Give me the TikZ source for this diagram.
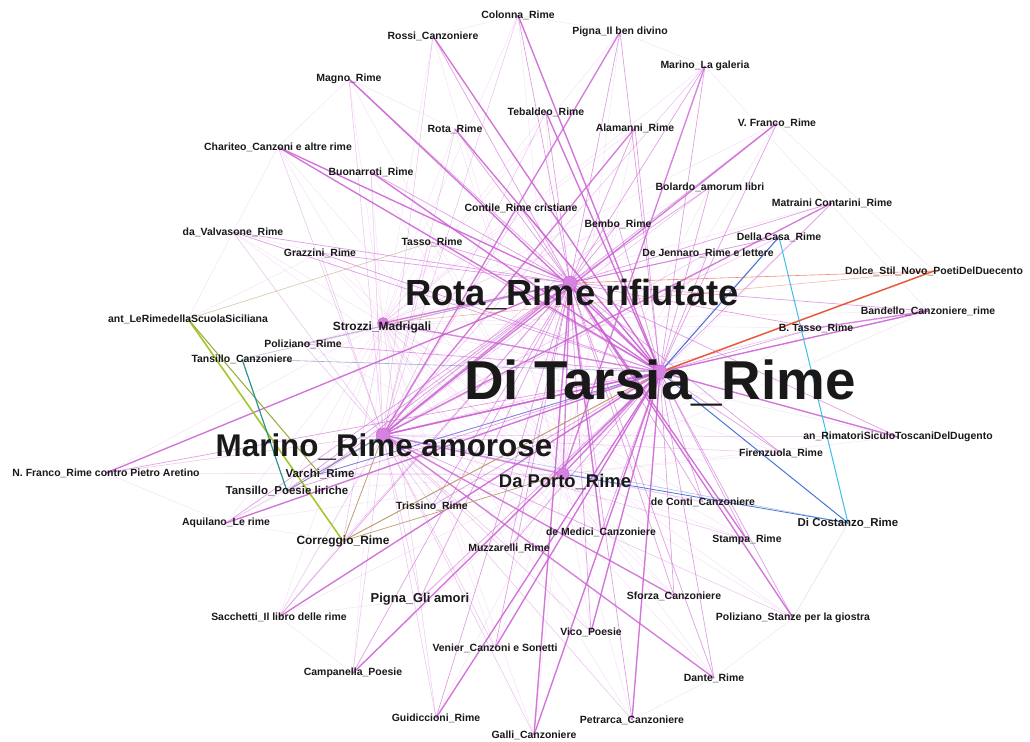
\documentclass[tikz,border=0pt]{standalone}
\usepackage{fontspec}
\setmainfont{Liberation Sans}
\usetikzlibrary{backgrounds}
\definecolor{linkpink}{RGB}{204,96,212}
\definecolor{hubpink}{RGB}{214,130,224}
\definecolor{lblgrey}{RGB}{25,25,25}
\definecolor{limegreen}{RGB}{160,200,40}
\definecolor{olivegreen}{RGB}{150,170,60}
\definecolor{tealgreen}{RGB}{40,150,140}
\definecolor{skyblue}{RGB}{60,190,235}
\definecolor{linkblue}{RGB}{70,120,210}
\definecolor{greyblue}{RGB}{120,140,180}
\definecolor{linkred}{RGB}{232,90,60}
\definecolor{linktan}{RGB}{190,160,110}
\tikzstyle{link} = [draw=linkpink, line width=0.7pt, draw opacity=0.6]
\tikzstyle{thinlink} = [draw=linkpink, line width=0.5pt, draw opacity=0.4]
\tikzstyle{faintlink} = [draw=linkpink, line width=0.4pt, draw opacity=0.2]
\tikzstyle{heavylink} = [draw=linkpink, line width=1.4pt, draw opacity=0.75]
\tikzstyle{hubdot} = [circle, fill=hubpink, draw=linkpink, minimum size=14bp, inner sep=0pt]
\tikzset{lbl/.style={font=\bfseries\fontsize{#1}{#1}\selectfont, inner sep=0pt, text=lblgrey},
         lbl/.default=10.5}

\begin{document}
\begin{tikzpicture}[x=1bp, y=-1bp]
\useasboundingbox (0,0) rectangle (1030,742);

% hubs
\node (tarsia) [hubdot] at (660,372) {};
\node (rotarif) [hubdot] at (570,283) {};
\node (marinoam) [hubdot] at (383,435) {};
\node (daporto) [hubdot, minimum size=12bp] at (563,474) {};
\node (strozzi) [hubdot, minimum size=11bp] at (383,323) {};

\node (tarsia-lbl) [lbl=55] at (660,383) {Di Tarsia\_Rime};
\node (rotarif-lbl) [lbl=36.5] at (572,295) {Rota\_Rime rifiutate};
\node (marinoam-lbl) [lbl=31.5] at (384,447) {Marino\_Rime amorose};
\node (daporto-lbl) [lbl=18.5] at (565,482) {Da Porto\_Rime};
\node (strozzi-lbl) [lbl=12] at (382,327) {Strozzi\_Madrigali};

% other works
\node (colonna) [lbl] at (518,15) {Colonna\_Rime};
\node (rossi) [lbl] at (433,36) {Rossi\_Canzoniere};
\node (pignaben) [lbl] at (620,32) {Pigna\_Il ben divino};
\node (magno) [lbl] at (349,79) {Magno\_Rime};
\node (marinogal) [lbl] at (705,66) {Marino\_La galeria};
\node (tebaldeo) [lbl] at (546,112) {Tebaldeo\_Rime};
\node (alamanni) [lbl] at (635,128) {Alamanni\_Rime};
\node (rota) [lbl] at (455,129) {Rota\_Rime};
\node (vfranco) [lbl] at (777,123) {V. Franco\_Rime};
\node (chariteo) [lbl] at (278,147) {Chariteo\_Canzoni e altre rime};
\node (buonarroti) [lbl] at (371,172) {Buonarroti\_Rime};
\node (bolardo) [lbl] at (710,187) {Bolardo\_amorum libri};
\node (contile) [lbl] at (521,208) {Contile\_Rime cristiane};
\node (bembo) [lbl] at (618,224) {Bembo\_Rime};
\node (matraini) [lbl] at (832,203) {Matraini Contarini\_Rime};
\node (valvasone) [lbl] at (233,232) {da\_Valvasone\_Rime};
\node (tasso) [lbl] at (432,242) {Tasso\_Rime};
\node (grazzini) [lbl] at (320,253) {Grazzini\_Rime};
\node (dellacasa) [lbl] at (779,237) {Della Casa\_Rime};
\node (dejennaro) [lbl] at (708,253) {De Jennaro\_Rime e lettere};
\node (dolce) [lbl] at (934,271) {Dolce\_Stil\_Novo\_PoetiDelDuecento};
\node (ant) [lbl] at (188,319) {ant\_LeRimedellaScuolaSiciliana};
\node (bandello) [lbl] at (928,311) {Bandello\_Canzoniere\_rime};
\node (btasso) [lbl] at (816,328) {B. Tasso\_Rime};
\node (polrime) [lbl] at (303,344) {Poliziano\_Rime};
\node (tancanz) [lbl] at (242,359) {Tansillo\_Canzoniere};
\node (rimatori) [lbl] at (898,437) {an\_RimatoriSiculoToscaniDelDugento};
\node (firenzuola) [lbl] at (781,453) {Firenzuola\_Rime};
\node (nfranco) [lbl] at (106,473) {N. Franco\_Rime contro Pietro Aretino};
\node (varchi) [lbl=11.5] at (320,474) {Varchi\_Rime};
\node (tanpoes) [lbl=11.5] at (287,491) {Tansillo\_Poesie liriche};
\node (deconti) [lbl] at (703,502) {de Conti\_Canzoniere};
\node (costanzo) [lbl=11.5] at (848,523) {Di Costanzo\_Rime};
\node (trissino) [lbl] at (432,506) {Trissino\_Rime};
\node (aquilano) [lbl] at (226,523) {Aquilano\_Le rime};
\node (demedici) [lbl] at (601,532) {de Medici\_Canzoniere};
\node (correggio) [lbl=12] at (343,541) {Correggio\_Rime};
\node (muzzarelli) [lbl] at (509,548) {Muzzarelli\_Rime};
\node (stampa) [lbl] at (747,540) {Stampa\_Rime};
\node (sforza) [lbl] at (674,596) {Sforza\_Canzoniere};
\node (pignaam) [lbl=13] at (420,599) {Pigna\_Gli amori};
\node (sacchetti) [lbl] at (279,617) {Sacchetti\_Il libro delle rime};
\node (polstanze) [lbl] at (793,618) {Poliziano\_Stanze per la giostra};
\node (vico) [lbl] at (591,632) {Vico\_Poesie};
\node (venier) [lbl] at (495,648) {Venier\_Canzoni e Sonetti};
\node (campanella) [lbl] at (353,673) {Campanella\_Poesie};
\node (dante) [lbl] at (714,678) {Dante\_Rime};
\node (guidiccioni) [lbl] at (436,718) {Guidiccioni\_Rime};
\node (petrarca) [lbl] at (632,720) {Petrarca\_Canzoniere};
\node (galli) [lbl] at (534,735) {Galli\_Canzoniere};

\begin{pgfonlayer}{background}
\fill[white] (0,0) rectangle (1030,742);

% every work to the hubs
\foreach \n in {colonna, rossi, pignaben, magno, marinogal, tebaldeo, alamanni,
    rota, vfranco, chariteo, buonarroti, bolardo, contile, bembo, matraini,
    valvasone, tasso, grazzini, dellacasa, dejennaro, bandello, btasso, polrime,
    rimatori, firenzuola, nfranco, varchi, tanpoes, deconti, trissino, aquilano,
    demedici, muzzarelli, stampa, sforza, pignaam, sacchetti, polstanze, vico,
    venier, campanella, dante, guidiccioni, petrarca, galli} {
  \draw[link] (\n.center) -- (tarsia.center);
  \draw[link] (\n.center) -- (rotarif.center);
  \draw[thinlink] (\n.center) -- (marinoam.center);
  \draw[faintlink] (\n.center) -- (daporto.center);
  \draw[faintlink] (\n.center) -- (strozzi.center);
}

% strong ties
\foreach \a/\b in {rossi/tarsia, colonna/tarsia, magno/tarsia, chariteo/tarsia,
    chariteo/rotarif, buonarroti/tarsia, rota/tarsia, tebaldeo/tarsia,
    pignaben/marinoam, alamanni/marinoam, marinogal/daporto, vfranco/marinoam,
    matraini/marinoam, bandello/marinoam, btasso/bandello, rimatori/tarsia,
    nfranco/rotarif, sacchetti/tarsia, campanella/tarsia, guidiccioni/tarsia,
    galli/tarsia, petrarca/tarsia, stampa/rotarif, polstanze/rotarif,
    vico/tarsia, demedici/rotarif, aquilano/tarsia, strozzi/tarsia,
    marinoam/tarsia, rotarif/tarsia, daporto/tarsia, marinoam/rotarif,
    sforza/marinoam, dante/marinoam, galli/rotarif, venier/tarsia,
    strozzi/rotarif, daporto/rotarif, marinoam/daporto} {
  \draw[heavylink] (\a.center) -- (\b.center);
}

% weak ties between works
\foreach \a/\b in {rossi/colonna, colonna/pignaben, pignaben/marinogal,
    marinogal/bandello, vfranco/dolce, magno/chariteo, chariteo/valvasone,
    valvasone/grazzini, magno/rota, polstanze/dante, dante/petrarca,
    campanella/sacchetti, pignaam/sacchetti, guidiccioni/pignaam,
    nfranco/varchi, nfranco/aquilano, aquilano/tanpoes, ant/valvasone,
    ant/grazzini, correggio/aquilano, correggio/sacchetti} {
  \draw[faintlink] (\a.center) -- (\b.center);
}
\foreach \h in {marinoam, rotarif, strozzi, tarsia}
  \draw[thinlink] (correggio.center) -- (\h.center);
\draw[greyblue, line width=0.4pt, opacity=0.3] (costanzo.center) -- (polstanze.center);

% coloured ties
\draw[limegreen, line width=1.6pt] (ant.center) -- (correggio.center);
\draw[olivegreen, line width=1pt] (ant.center) -- (varchi.center);
\draw[linktan, line width=0.6pt, opacity=0.6] (ant.center) -- (tasso.center);
\draw[tealgreen, line width=1.2pt] (tancanz.center) -- (tanpoes.center);
\draw[greyblue, line width=0.6pt, opacity=0.7] (tancanz.center) -- (tarsia.center);
\draw[greyblue, line width=0.6pt, opacity=0.5] (tancanz.center) -- (rotarif.center);
\draw[greyblue, line width=0.8pt] (tanpoes.center) -- (marinoam.center);
\draw[linkblue, line width=0.7pt, opacity=0.7] (varchi.center) -- (tarsia.center);
\draw[linktan, line width=0.9pt] (correggio.center) -- (tarsia.center);
\draw[linktan, line width=0.7pt] (correggio.center) -- (daporto.center);
\draw[linktan, line width=0.7pt] (correggio.center) -- (marinoam.center);
\draw[skyblue, line width=1pt] (dellacasa.center) -- (costanzo.center);
\draw[linkblue, line width=1pt] (tarsia.center) -- (dellacasa.center);
\draw[linkblue, line width=1pt] (tarsia.center) -- (costanzo.center);
\draw[linkblue, line width=0.8pt] (daporto.center) -- (costanzo.center);
\draw[linkblue, line width=0.5pt, opacity=0.5] (marinoam.center) -- (costanzo.center);
\draw[linkred, line width=1.5pt] (tarsia.center) -- (dolce.center);
\draw[linkred, line width=0.6pt, opacity=0.7] (rotarif.center) -- (dolce.center);
\draw[linkred, line width=0.5pt, opacity=0.5] (strozzi.center) -- (dolce.center);
\end{pgfonlayer}

\end{tikzpicture}
\end{document}
